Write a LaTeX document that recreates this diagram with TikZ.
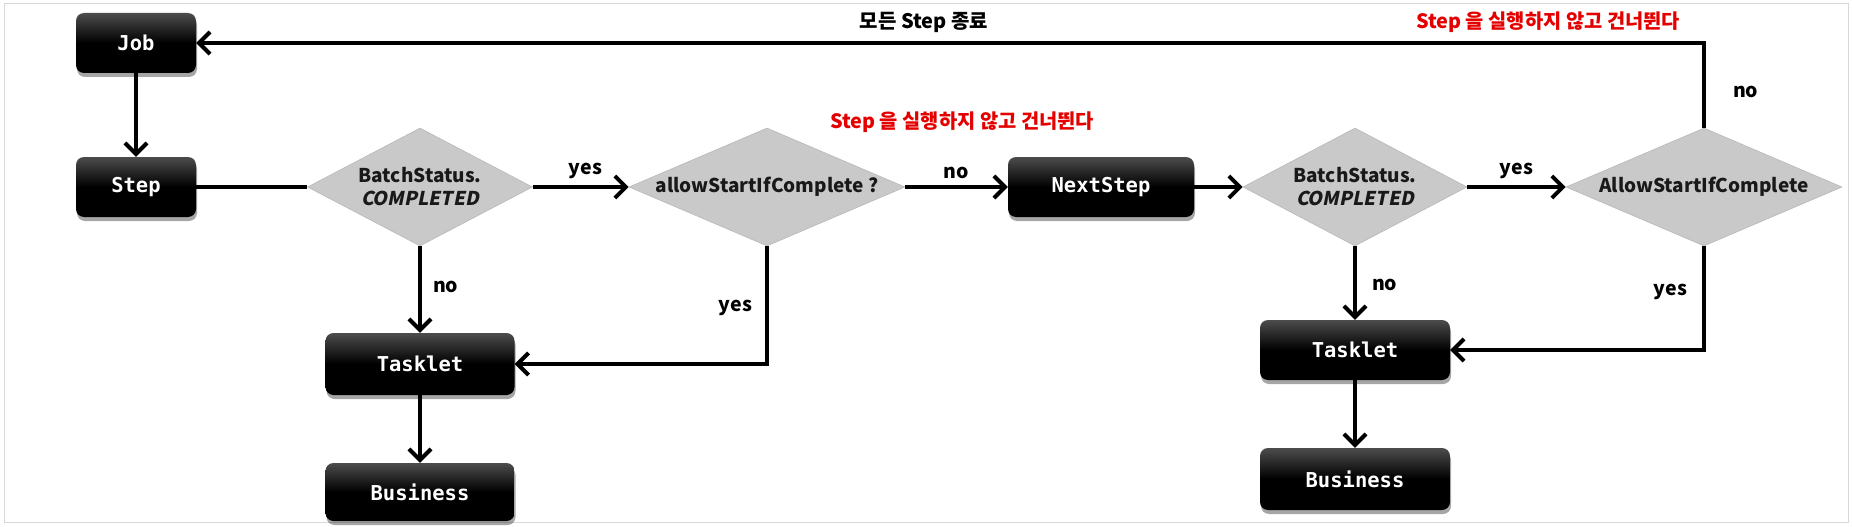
\documentclass[tikz,border=0pt]{standalone}
\usepackage{fontspec}
\usetikzlibrary{arrows.meta,shapes.geometric,shadows}
\newfontfamily\krfont{Noto Sans CJK KR}
\newfontfamily\krslant{Noto Sans CJK KR}[FakeSlant=0.2]
\newfontfamily\monofont{DejaVu Sans Mono}
\begin{document}
\begin{tikzpicture}[x=1pt,y=-1pt,
  box/.style={rectangle, rounded corners=8pt, top color=black!70, bottom color=black, middle color=black,
    text=white, font=\monofont\bfseries\fontsize{20.5}{24}\selectfont, minimum height=60pt, inner sep=0pt,
    drop shadow={shadow xshift=1pt, shadow yshift=-4pt, opacity=0.35, fill=black}},
  dia/.style={diamond, fill=black!21, draw=black!28, line width=0.6pt, inner sep=0pt,
    minimum width=225pt, minimum height=118pt},
  dtext/.style={font=\krfont\bfseries\fontsize{19}{23}\selectfont, align=center, text=black!90},
  lab/.style={font=\krfont\bfseries\fontsize{19.5}{22}\selectfont, inner sep=1pt},
  redlab/.style={font=\krfont\bfseries\fontsize{19.8}{23}\selectfont, text=red!90!black},
  conn/.style={line width=4pt, -{Straight Barb[length=11pt,width=22pt]}},
  plainline/.style={line width=4pt}
]
\useasboundingbox (0,0) rectangle (1853,527);
\draw[black!15, line width=1pt] (4,4) rectangle (1848,522);

% boxes
\node[box, minimum width=120pt] (job) at (136,43) {Job};
\node[box, minimum width=120pt] (step) at (136,187) {Step};
\node[box, minimum width=186pt] (next) at (1101,187) {NextStep};
\node[box, minimum width=189pt, minimum height=62pt] (task1) at (420,364) {Tasklet};
\node[box, minimum width=189pt, minimum height=58pt] (bus1) at (420,492) {Business};
\node[box, minimum width=190pt] (task2) at (1355,350) {Tasklet};
\node[box, minimum width=190pt, minimum height=62pt] (bus2) at (1355,479) {Business};

% diamonds
\node[dia] (d1) at (420,187) {};
\node[dtext] at (d1) {BatchStatus.\\{\krslant\bfseries COMPLETED}};
\node[dia, minimum width=276pt] (d2) at (767,187) {};
\node[dtext] at (d2) {allowStartIfComplete ?};
\node[dia, minimum width=224pt] (d3) at (1355,187) {};
\node[dtext] at (d3) {BatchStatus.\\{\krslant\bfseries COMPLETED}};
\node[dia, minimum width=276pt] (d4) at (1704,187) {};
\node[dtext] at (d4) {AllowStartIfComplete};

% texts
\node[redlab] (r1) at (962,122) {Step 을 실행하지 않고 건너뛴다};
\node[redlab] (r2) at (1548,22) {Step 을 실행하지 않고 건너뛴다};
\node[lab, font=\krfont\bfseries\fontsize{20}{23}\selectfont] (endall) at (924,22) {모든 Step 종료};

% connectors
\draw[conn] (job) -- (step);
\draw[plainline] (step.east) -- (d1.west);
\draw[conn] (d1.east) -- node[lab, above=5pt, pos=0.55] {yes} (d2.west);
\draw[conn] (d2.east) -- node[lab, above=5pt] {no} (next.west);
\draw[conn] (next.east) -- (d3.west);
\draw[conn] (d3.east) -- node[lab, above=5pt] {yes} (d4.west);
\draw[conn] (d1.south) -- node[lab, right=10pt, pos=0.47] {no} (task1.north);
\draw[conn] (d2.south) |- node[lab, left=12pt, pos=0.26] {yes} (task1.east);
\draw[conn] (task1) -- (bus1);
\draw[conn] (d3.south) -- node[lab, right=14pt, pos=0.52] {no} (task2.north);
\draw[conn] (d4.south) |- node[lab, left=14pt, pos=0.22] {yes} (task2.east);
\draw[conn] (task2) -- (bus2);
\draw[conn] (d4.north) |- node[lab, right=26pt, pos=0.21] {no} (job.east);
\end{tikzpicture}
\end{document}
